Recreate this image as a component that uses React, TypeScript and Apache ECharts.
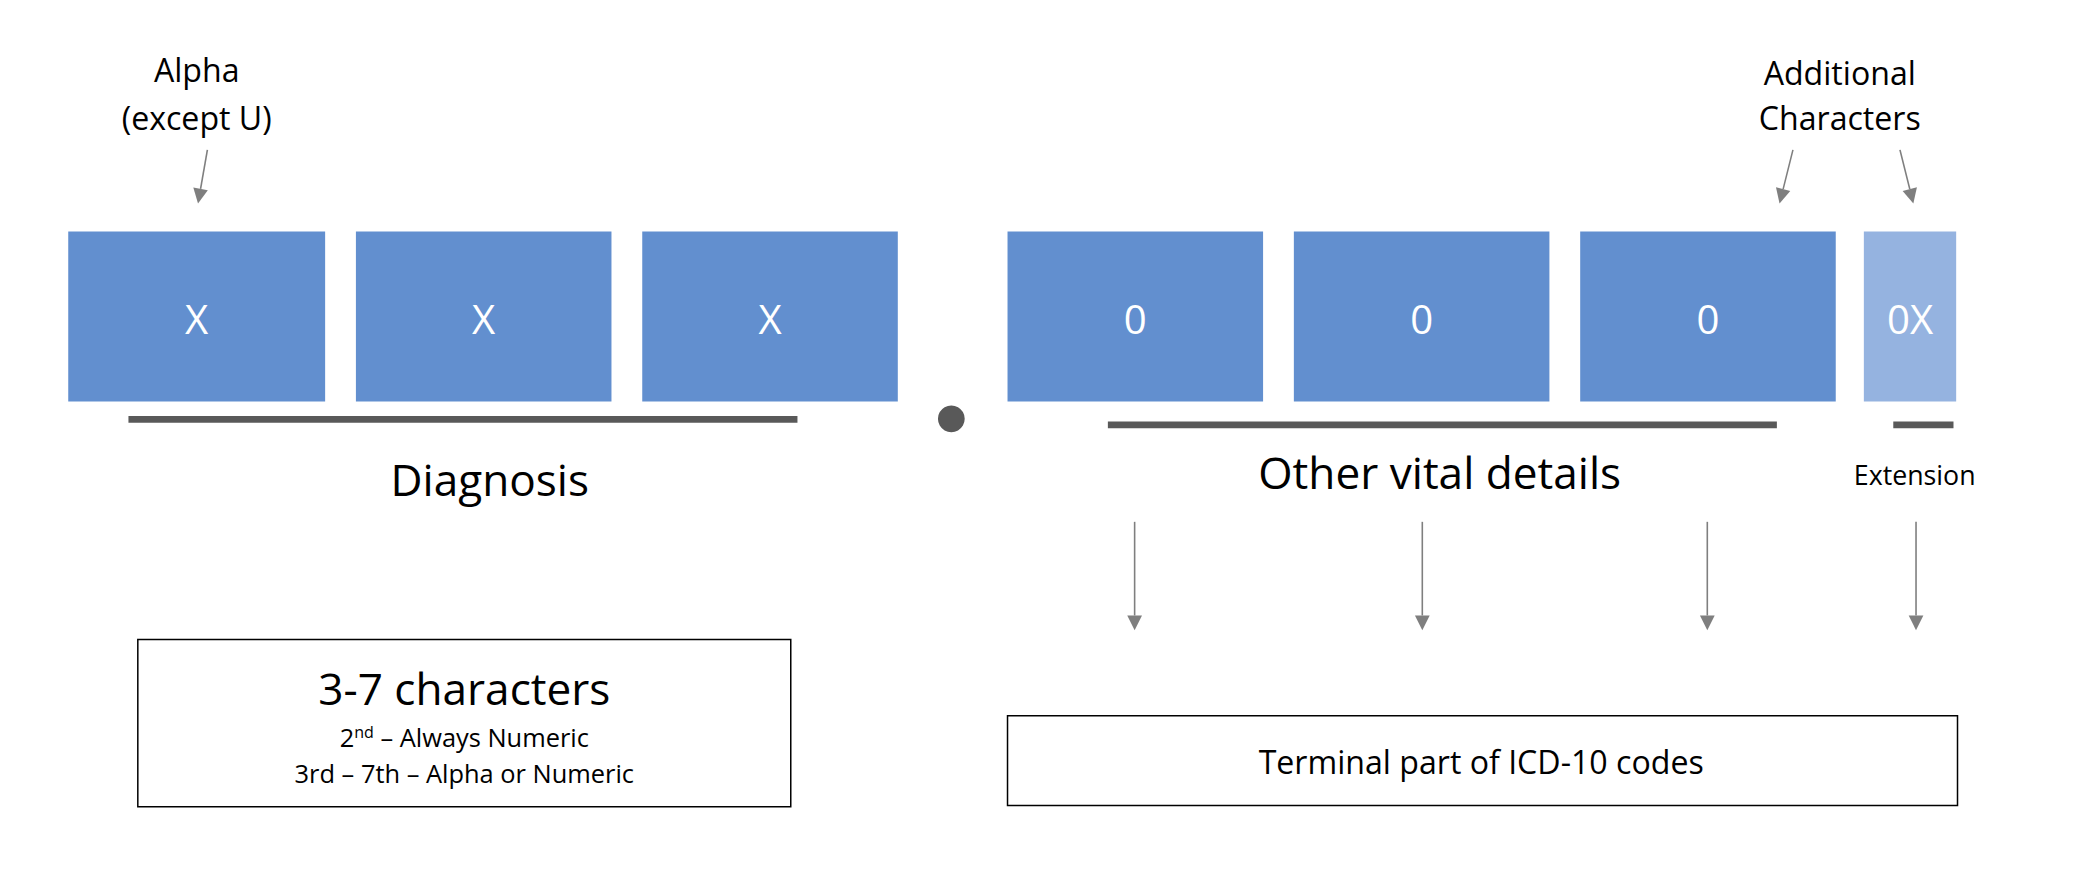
import React, { useEffect, useRef } from "react";
import * as echarts from "echarts";

// code characters and their annotations
const boxLabels = ["X", "X", "X", "0", "0", "0", "0X"];
const boxLeft = [51, 266, 480, 753, 967, 1181, 1393];
const boxRight = [243, 457, 671, 944, 1158, 1372, 1462];
const groupLabels = ["Diagnosis", "Other vital details", "Extension"];
const topNotes = [["Alpha", "(except U)"], ["Additional", "Characters"]];
const leftBoxLines = ["3-7 characters", "2nd – Always Numeric", "3rd – 7th – Alpha or Numeric"];
const rightBoxText = "Terminal part of ICD-10 codes";

const S = 2098 / 1568; // reference was measured at a reduced scale
const s = (v: number) => v * S;
const FONT = "'Open Sans', 'Noto Sans', sans-serif";
const BLUE = "#628fcf";
const LIGHT = "#95b3e0";
const GREY = "#595959";
const ARROW = "#7f7f7f";

function arrow(x1: number, y1: number, x2: number, y2: number): any[] {
  const ang = Math.atan2(y2 - y1, x2 - x1);
  const len = s(11);
  const w = s(5.5);
  const bx = s(x2) - len * Math.cos(ang);
  const by = s(y2) - len * Math.sin(ang);
  const nx = -Math.sin(ang) * w;
  const ny = Math.cos(ang) * w;
  return [
    { type: "line", shape: { x1: s(x1), y1: s(y1), x2: bx, y2: by }, style: { stroke: ARROW, lineWidth: 1.6 } },
    {
      type: "polygon",
      shape: { points: [[s(x2), s(y2)], [bx + nx, by + ny], [bx - nx, by - ny]] },
      style: { fill: ARROW },
    },
  ];
}

function text(t: string, x: number, y: number, size: number, fill = "#000", extra: any = {}): any {
  return {
    type: "text",
    x: s(x),
    y: s(y),
    style: { text: t, fill, font: `${s(size)}px ${FONT}`, align: "center", verticalAlign: "middle", ...extra },
  };
}

const App: React.FC = () => {
  const chartRef = useRef<HTMLDivElement>(null);

  useEffect(() => {
    document.body.style.margin = "0";
    const chart = echarts.init(chartRef.current!, null, { renderer: "svg" });
    const els: any[] = [];

    boxLabels.forEach((label, i) => {
      els.push({
        type: "rect",
        shape: { x: s(boxLeft[i]), y: s(173), width: s(boxRight[i] - boxLeft[i]), height: s(127) },
        style: { fill: i === boxLabels.length - 1 ? LIGHT : BLUE },
      });
      els.push(text(label, (boxLeft[i] + boxRight[i]) / 2, 238, 30, "#fff"));
    });

    // dot separator
    els.push({ type: "circle", shape: { cx: s(711), cy: s(313), r: s(10) }, style: { fill: GREY } });

    // underlines
    els.push({ type: "rect", shape: { x: s(96), y: s(311), width: s(500), height: s(5) }, style: { fill: GREY } });
    els.push({ type: "rect", shape: { x: s(828), y: s(315), width: s(500), height: s(5) }, style: { fill: GREY } });
    els.push({ type: "rect", shape: { x: s(1415), y: s(315), width: s(45), height: s(5) }, style: { fill: GREY } });

    els.push(text(groupLabels[0], 366, 358, 33));
    els.push(text(groupLabels[1], 1076, 353, 33));
    els.push(text(groupLabels[2], 1431, 355, 20));

    // top notes
    els.push(text(topNotes[0][0], 147, 52, 24));
    els.push(text(topNotes[0][1], 147, 88, 24));
    els.push(text(topNotes[1][0], 1375, 54, 24));
    els.push(text(topNotes[1][1], 1375, 88, 24));
    els.push(...arrow(155, 112, 148, 152));
    els.push(...arrow(1340, 112, 1330, 152));
    els.push(...arrow(1420, 112, 1430, 152));

    [848, 1063, 1276, 1432].forEach((x) => els.push(...arrow(x, 390, x, 471)));

    // bottom boxes
    els.push({
      type: "rect",
      shape: { x: s(103), y: s(478), width: s(488), height: s(125) },
      style: { fill: "#fff", stroke: "#000", lineWidth: 1.5 },
    });
    els.push(text(leftBoxLines[0], 347, 514, 33));
    els.push({
      type: "text",
      x: s(347),
      y: s(551),
      style: {
        text: "{n|2}{sup|nd}{n| – Always Numeric}",
        align: "center",
        verticalAlign: "middle",
        rich: {
          n: { fontSize: s(19), fontFamily: FONT, fill: "#000" },
          sup: { fontSize: s(12), fontFamily: FONT, fill: "#000", verticalAlign: "top", padding: [0, 0, s(8), 0] },
        },
      },
    });
    els.push(text(leftBoxLines[2], 347, 578, 19));

    els.push({
      type: "rect",
      shape: { x: s(753), y: s(535), width: s(710), height: s(67) },
      style: { fill: "#fff", stroke: "#000", lineWidth: 1.5 },
    });
    els.push(text(rightBoxText, 1107, 569, 24));

    chart.setOption({ animation: false, backgroundColor: "#fff", graphic: { elements: els } });
    return () => chart.dispose();
  }, []);

  return <div ref={chartRef} style={{ width: 2098, height: 896 }} />;
};

export default App;
